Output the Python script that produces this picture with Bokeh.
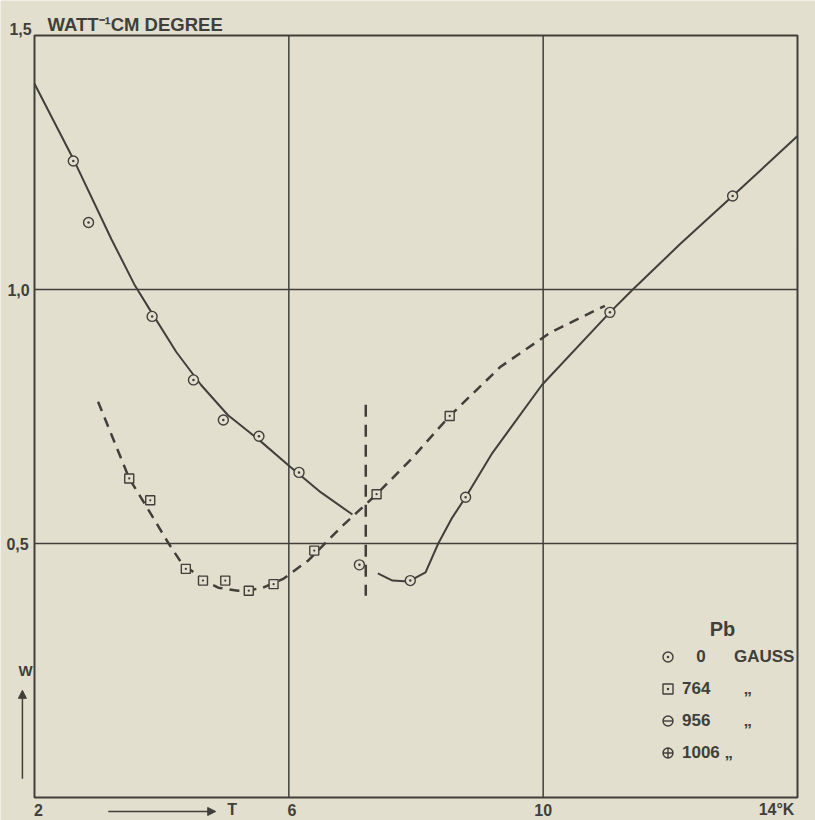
from bokeh.plotting import figure
from bokeh.models import Label, Arrow, NormalHead, Legend, LegendItem, Range1d, BoxAnnotation
from bokeh.embed import file_html
from bokeh.resources import INLINE

# ---- data ----
# measured points, 0 gauss (circle with dot)
t_0g_left = [2.61, 2.85, 3.85, 4.50, 4.97, 5.53, 6.16]
w_0g_left = [1.253, 1.132, 0.947, 0.822, 0.743, 0.711, 0.640]
t_0g_right = [7.91, 8.78, 11.05, 12.98]
w_0g_right = [0.427, 0.591, 0.955, 1.184]
# measured points, 764 gauss (square with dot)
t_764 = [3.49, 3.82, 4.38, 4.65, 5.00, 5.37, 5.76, 6.40, 7.38, 8.53]
w_764 = [0.628, 0.585, 0.450, 0.427, 0.427, 0.407, 0.420, 0.486, 0.597, 0.751]
# measured point, 1006 gauss
t_1006 = [7.11]
w_1006 = [0.458]

# drawn curves
curve_a_t = [2.00, 2.61, 3.21, 3.57, 3.85, 4.23, 4.62, 5.04, 5.53, 6.03, 6.50, 7.00]
curve_a_w = [1.405, 1.257, 1.099, 1.010, 0.953, 0.877, 0.812, 0.753, 0.704, 0.650, 0.601, 0.557]
curve_b_t = [7.40, 7.63, 7.88, 8.15, 8.35, 8.57, 8.78, 9.20, 9.98, 11.05, 11.41, 12.15, 12.98, 14.00]
curve_b_w = [0.441, 0.427, 0.425, 0.443, 0.500, 0.551, 0.591, 0.678, 0.812, 0.955, 1.000, 1.089, 1.184, 1.302]
curve_c_t = [3.00, 3.49, 3.73, 4.10, 4.31, 4.67, 4.89, 5.20, 5.56, 5.92, 6.30, 6.82, 7.38, 7.91, 8.53, 9.33, 10.11, 10.97]
curve_c_w = [0.779, 0.628, 0.579, 0.502, 0.462, 0.427, 0.413, 0.407, 0.411, 0.431, 0.466, 0.532, 0.597, 0.664, 0.751, 0.848, 0.915, 0.968]
jump_t = [7.21, 7.21]
jump_w = [0.773, 0.397]

t_min, t_max = 2, 14
w_min, w_max = 0, 1.5
x_grid = [6, 10]
y_grid = [0.5, 1.0]
x_ticks = [2, 6, 10, 14]
x_tick_labels = ["2", "6", "10", "14°K"]
y_ticks = [0.5, 1.0, 1.5]
y_tick_labels = ["0,5", "1,0", "1,5"]

legend_labels = ["\u00a0\u00a0\u00a00\u00a0\u00a0\u00a0\u00a0\u00a0\u00a0GAUSS",
                 "764\u00a0\u00a0\u00a0\u00a0\u00a0\u00a0\u00a0\u201e",
                 "956\u00a0\u00a0\u00a0\u00a0\u00a0\u00a0\u00a0\u201e",
                 "1006\u00a0\u201e"]

BG = "#e3dfcf"
INK = "#403f3a"
FONT = "Liberation Sans"

# canvas geometry: the drawing box sits inside a canvas-filling frame so that
# lettering outside the box is not clipped
W, H = 815, 820
box_l, box_r, box_t, box_b = 34, 797, 35, 797
sx = (box_r - box_l) / (t_max - t_min)
sy = (box_b - box_t) / (w_max - w_min)
x_range = Range1d(t_min - box_l / sx, t_min + (W - box_l) / sx)
y_range = Range1d(w_min - (H - box_b) / sy, w_max + box_t / sy)

p = figure(width=W, height=H, x_range=x_range, y_range=y_range,
           output_backend="svg", toolbar_location=None,
           x_axis_location=None, y_axis_location=None,
           min_border=0)
p.background_fill_color = BG
p.border_fill_color = BG
p.outline_line_color = None
p.grid.visible = False

# grid lines and box
p.segment(x0=x_grid, y0=[w_min] * len(x_grid), x1=x_grid, y1=[w_max] * len(x_grid),
          line_color=INK, line_width=1.5)
p.segment(x0=[t_min] * len(y_grid), y0=y_grid, x1=[t_max] * len(y_grid), y1=y_grid,
          line_color=INK, line_width=1.5)
p.add_layout(BoxAnnotation(left=t_min, right=t_max, bottom=w_min, top=w_max,
                           fill_alpha=0, line_color=INK, line_width=2, line_alpha=1))

# curves
p.line(curve_a_t, curve_a_w, line_color=INK, line_width=2)
p.line(curve_b_t, curve_b_w, line_color=INK, line_width=2)
p.line(curve_c_t, curve_c_w, line_color=INK, line_width=2.5, line_dash="10 7")
p.line(jump_t, jump_w, line_color=INK, line_width=2.5, line_dash="12 8")

# points
mk = dict(line_color=INK, fill_color=BG, line_width=1.4)
r0 = p.scatter(t_0g_left + t_0g_right, w_0g_left + w_0g_right, marker="circle_dot", size=10, **mk)
r764 = p.scatter(t_764, w_764, marker="square_dot", size=9, **mk)
r1006 = p.scatter(t_1006, w_1006, marker="circle_dot", size=10, **mk)

# legend-only glyphs (no visible data)
nan = float("nan")
r956a = p.scatter([nan], [nan], marker="dash", size=10, line_color=INK, line_width=1.4)
r956b = p.scatter([nan], [nan], marker="circle", size=8, **mk)
r1006c = p.scatter([nan], [nan], marker="circle_cross", size=10, **mk)

legend = Legend(items=[
    LegendItem(label=legend_labels[0], renderers=[r0]),
    LegendItem(label=legend_labels[1], renderers=[r764]),
    LegendItem(label=legend_labels[2], renderers=[r956b, r956a]),
    LegendItem(label=legend_labels[3], renderers=[r1006c]),
], location=(655, 55), glyph_width=25, glyph_height=25, label_height=25, spacing=7,
   label_standoff=2, padding=0, margin=0, border_line_color=None, background_fill_alpha=0,
   label_text_font=FONT, label_text_font_size="17px", label_text_font_style="bold",
   label_text_color=INK)
p.add_layout(legend)

txt = dict(text_font=FONT, text_font_style="bold", text_color=INK,
           text_align="center", text_baseline="middle")

p.add_layout(Label(x=12.82, y=0.332, text="Pb", text_font_size="20px", **txt))

# tick labels
x_off = [4, 3, 0, -21]
for t, lab, off in zip(x_ticks, x_tick_labels, x_off):
    p.add_layout(Label(x=t, y=w_min, x_offset=off, y_offset=-12, text=lab, text_font_size="16px", **txt))
y_off = [(-17, 0), (-16, 0), (-14, 7)]
for w, lab, (xo, yo) in zip(y_ticks, y_tick_labels, y_off):
    p.add_layout(Label(x=t_min, y=w, x_offset=xo, y_offset=yo, text=lab, text_font_size="16px", **txt))

# axis titles
p.add_layout(Label(x=t_min, y=w_max, x_offset=13, y_offset=11, text="WATT\u207b\u00b9CM DEGREE",
                   text_font=FONT, text_font_style="bold", text_color=INK, text_font_size="18.5px",
                   text_align="left", text_baseline="middle"))
p.add_layout(Label(x=t_min, y=w_min, x_offset=-9, y_offset=127, text="W", text_font_size="15px", **txt))
p.add_layout(Label(x=5.11, y=w_min, y_offset=-12, text="T", text_font_size="16px", **txt))

p.add_layout(Arrow(x_start=1.81, y_start=0.037, x_end=1.81, y_end=0.211,
                   line_color=INK, line_width=1.5,
                   end=NormalHead(size=8, line_color=INK, fill_color=INK)))
p.add_layout(Arrow(x_start=3.16, y_start=-0.0275, x_end=4.85, y_end=-0.0275,
                   line_color=INK, line_width=1.5,
                   end=NormalHead(size=8, line_color=INK, fill_color=INK)))

html = file_html(p, INLINE)
html = html.replace("<body>", '<body style="background:%s;overflow:hidden;">' % BG, 1)
open("out.html", "w").write(html)
